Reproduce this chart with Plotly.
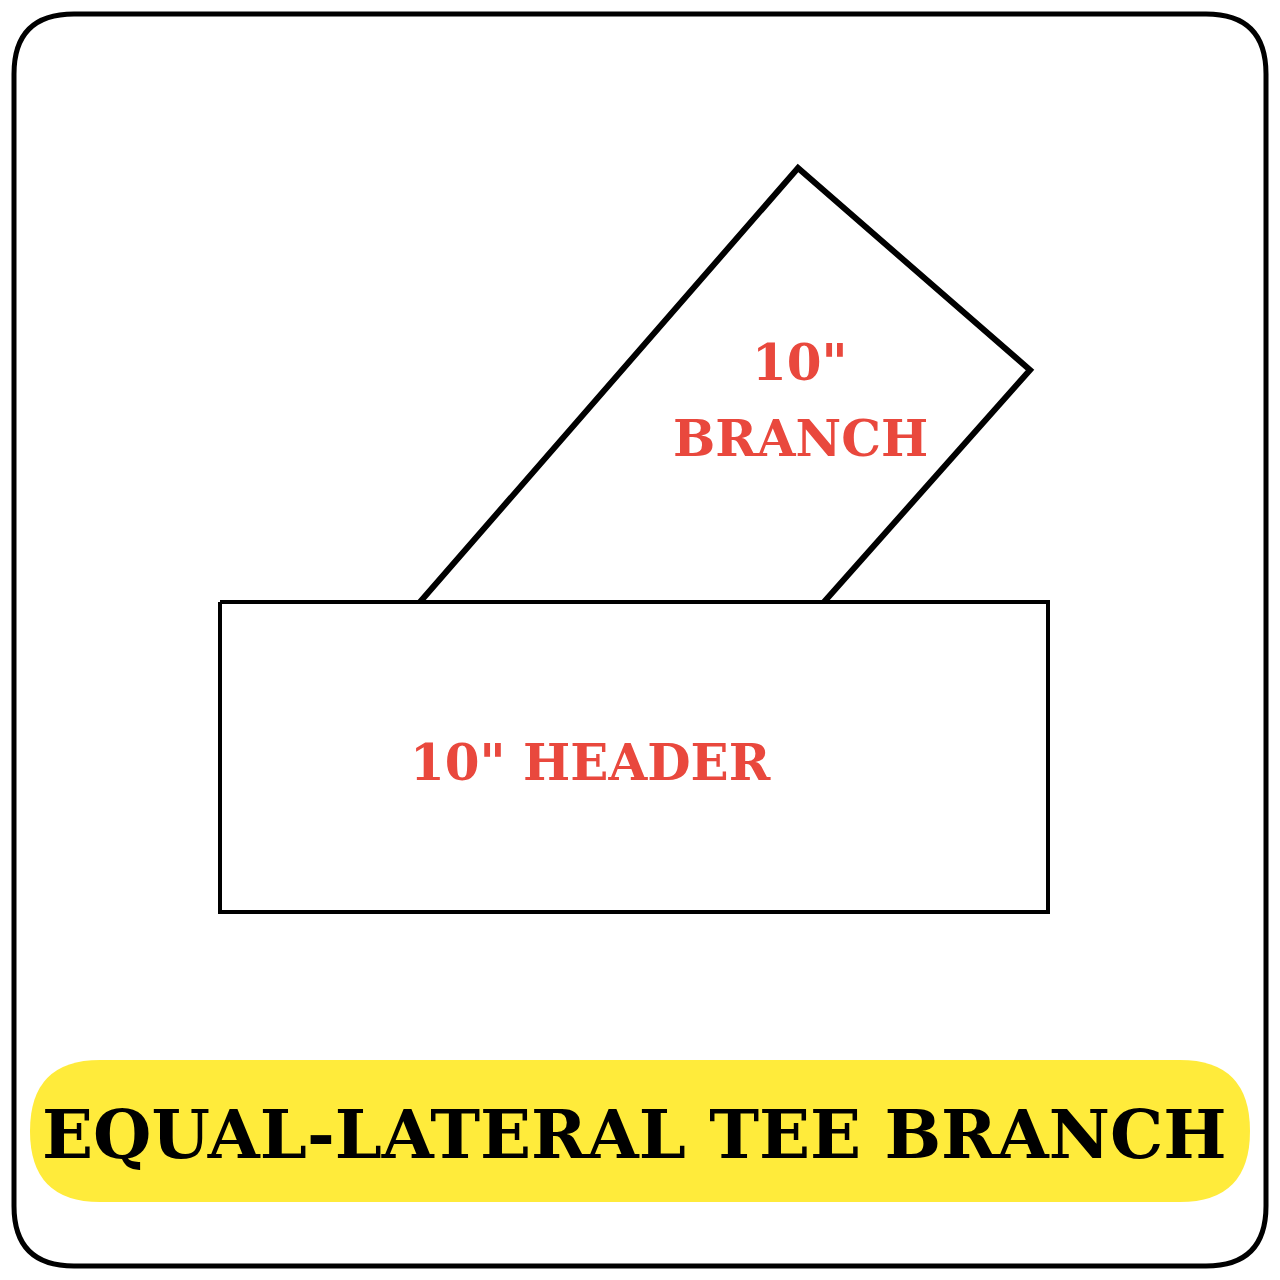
import plotly.graph_objects as go

# diagram geometry in picture pixels (y grows downward)
header_x = [220, 1048, 1048, 220, 220]
header_y = [602, 602, 912, 912, 602]
branch_x = [420, 798, 1030, 824]
branch_y = [602, 168, 370, 602]

labels = ['10"', "BRANCH", '10" HEADER']
label_x = [800, 800, 590]
label_y = [362, 438, 762]
title = "EQUAL-LATERAL TEE BRANCH"

RED = "#E9483D"
FONT = "DejaVu Serif"

fig = go.Figure()

# outer rounded frame
fig.add_shape(type="path",
              path="M 74 14 L 1206 14 Q 1266 14 1266 74 L 1266 1206 Q 1266 1266 1206 1266 "
                   "L 74 1266 Q 14 1266 14 1206 L 14 74 Q 14 14 74 14 Z",
              line=dict(color="black", width=5))

# yellow pill behind the title
fig.add_shape(type="path",
              path="M 100 1060 L 1180 1060 Q 1250 1060 1250 1131 Q 1250 1202 1180 1202 "
                   "L 100 1202 Q 30 1202 30 1131 Q 30 1060 100 1060 Z",
              fillcolor="#FFEB3B", line=dict(width=0), layer="below")

fig.add_trace(go.Scatter(x=branch_x, y=branch_y, mode="lines",
                         line=dict(color="black", width=6), hoverinfo="skip"))
fig.add_trace(go.Scatter(x=header_x, y=header_y, mode="lines",
                         line=dict(color="black", width=4), hoverinfo="skip"))

for t, x, y in zip(labels, label_x, label_y):
    fig.add_annotation(x=x, y=y, text="<b>%s</b>" % t, showarrow=False,
                       font=dict(family=FONT, size=50, color=RED))

fig.add_annotation(x=634, y=1134, text="<b>%s</b>" % title, showarrow=False,
                   font=dict(family=FONT, size=67, color="black"))

fig.update_layout(width=1280, height=1280, margin=dict(l=0, r=0, t=0, b=0),
                  plot_bgcolor="white", paper_bgcolor="white", showlegend=False)
# page body adds an 8px offset, so shift the view to compensate
fig.update_xaxes(range=[8, 1288], visible=False)
fig.update_yaxes(range=[1288, 8], visible=False)

fig.write_html("out.html")
